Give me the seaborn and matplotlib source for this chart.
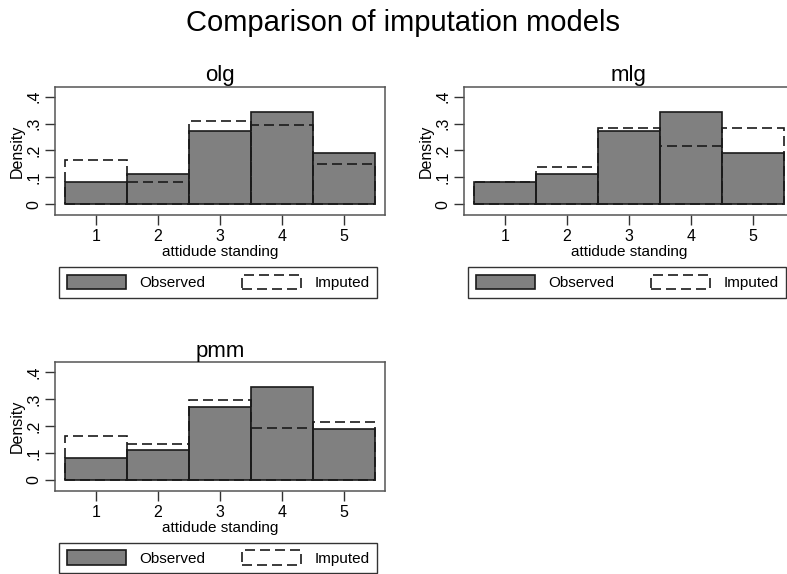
import matplotlib
matplotlib.use("Agg")
import matplotlib.pyplot as plt
from matplotlib.patches import Patch
import seaborn as sns
import pandas as pd

# ---- data ----
categories = [1, 2, 3, 4, 5]
models = ["olg", "mlg", "pmm"]
observed = [0.083, 0.112, 0.271, 0.344, 0.190]
imputed_olg = [0.164, 0.081, 0.311, 0.295, 0.149]
imputed_mlg = [0.081, 0.137, 0.283, 0.216, 0.282]
imputed_pmm = [0.164, 0.135, 0.298, 0.193, 0.215]
imputed = {"olg": imputed_olg, "mlg": imputed_mlg, "pmm": imputed_pmm}
ytick_vals = [0, 0.1, 0.2, 0.3, 0.4]
ytick_labels = ["0", ".1", ".2", ".3", ".4"]
xlabel = "attidude standing"
ylabel = "Density"
main_title = "Comparison of imputation models"
legend_labels = ["Observed", "Imputed"]

sns.set_style("ticks")
plt.rcParams["font.family"] = ["Liberation Sans", "DejaVu Sans"]
plt.rcParams["text.color"] = "black"
plt.rcParams["axes.labelcolor"] = "black"
plt.rcParams["xtick.labelcolor"] = "black"
plt.rcParams["ytick.labelcolor"] = "black"

W, H = 787, 574
fig = plt.figure(figsize=(W / 100, H / 100), dpi=100)

def rect(x0, y0, x1, y1):
    return [x0 / W, 1 - y1 / H, (x1 - x0) / W, (y1 - y0) / H]

positions = {
    "olg": rect(55, 86.7, 385, 215),
    "mlg": rect(464, 86.7, 794, 215),
    "pmm": rect(55, 362.3, 385, 490.7),
}

obs_color = "#808080"
edge_dark = "#1a1a1a"
frame_color = "#555555"

for m in models:
    ax = fig.add_axes(positions[m])
    df = pd.DataFrame({"cat": categories, "obs": observed, "imp": imputed[m]})
    sns.histplot(data=df, x="cat", weights="obs", discrete=True, stat="count",
                 color=obs_color, alpha=1, edgecolor=edge_dark, linewidth=1.2,
                 ax=ax)
    sns.histplot(data=df, x="cat", weights="imp", discrete=True, stat="count",
                 fill=False, color=edge_dark, linewidth=1.2,
                 linestyle=(0, (6, 3)), ax=ax)
    ax.set_xlim(0.34, 5.66)
    ax.set_ylim(-0.04, 0.437)
    ax.set_xticks(categories)
    ax.set_xticklabels([str(c) for c in categories], fontsize=11.5)
    ax.set_yticks(ytick_vals)
    ax.set_yticklabels(ytick_labels, fontsize=11.5, rotation=90, va="center")
    ax.tick_params(axis="both", length=7, width=1, color="#333333", pad=3,
                   direction="out")
    ax.set_xlabel(xlabel, fontsize=11, labelpad=1)
    ax.set_ylabel(ylabel, fontsize=11.5, labelpad=1)
    ax.set_title(m, fontsize=16, pad=4)
    for s in ax.spines.values():
        s.set_visible(True)
        s.set_color(frame_color)
        s.set_linewidth(1.1)
    handles = [
        Patch(facecolor=obs_color, edgecolor=edge_dark, linewidth=1.2),
        Patch(facecolor="white", edgecolor=edge_dark, linewidth=1.2,
              linestyle=(0, (6, 3))),
    ]
    leg = ax.legend(handles, legend_labels, loc="upper left",
                    bbox_to_anchor=(0.012, -0.405), borderaxespad=0,
                    ncol=2, fontsize=11, frameon=True, fancybox=False,
                    handlelength=3.9, handleheight=1.05, handletextpad=0.85,
                    columnspacing=2.4, borderpad=0.5)
    fr = leg.get_frame()
    fr.set_edgecolor("#333333")
    fr.set_linewidth(1.0)
    fr.set_alpha(1)

fig.text(403 / W, 1 - 31 / H, main_title, ha="center", va="baseline",
         fontsize=21)

fig.savefig("out.png", dpi=100)
